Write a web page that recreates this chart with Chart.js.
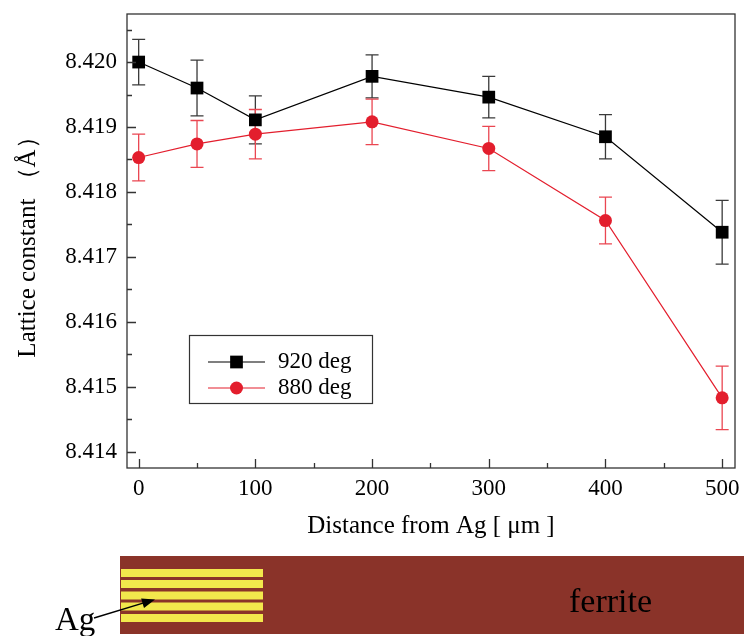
<!DOCTYPE html>
<html><head><meta charset="utf-8">
<script src="https://cdn.jsdelivr.net/npm/chart.js@4"></script>
<style>html,body{margin:0;padding:0;background:#fff}#wrap{width:744px;height:636px;position:relative}</style>
</head><body><div id="wrap"><canvas id="c" width="744" height="636"></canvas></div>
<script>
// ---- data ----
const distances = [0, 50, 100, 200, 300, 400, 500];
const lattice920 = [8.42000, 8.41960, 8.41911, 8.41978, 8.41946, 8.41885, 8.41738];
const err920 = [0.00035, 0.00043, 0.00037, 0.00033, 0.00032, 0.00034, 0.00049];
const lattice880 = [8.41853, 8.41874, 8.41889, 8.41908, 8.41867, 8.41756, 8.41483];
const err880 = [0.00036, 0.00036, 0.00038, 0.00035, 0.00034, 0.00036, 0.00049];
const seriesLabels = ['920 deg', '880 deg'];
const xMajorTicks = [0, 100, 200, 300, 400, 500];
const xMinorTicks = [50, 150, 250, 350, 450];
const yMajorTicks = [8.414, 8.415, 8.416, 8.417, 8.418, 8.419, 8.420];
const yMinorTicks = [8.4145, 8.4155, 8.4165, 8.4175, 8.4185, 8.4195, 8.4205];
const xTitle = 'Distance from Ag [ μm ]';
const yTitle = 'Lattice constant （Å）';
const schematicLabels = ['Ag', 'ferrite'];

const FONT = "'Liberation Serif', 'Times New Roman', serif";
const BLACK = '#000000';
const RED = '#E31E2D';
const errColors = ['#3a3a3a', '#EA4651'];
const errSets = [err920, err880];

const frameTicks = {
  id: 'frameTicks',
  afterDatasetsDraw(chart) {
    const {ctx, chartArea: a, scales: {x, y}} = chart;
    ctx.save();
    ctx.strokeStyle = '#333';
    ctx.lineWidth = 1.3;
    ctx.strokeRect(a.left, a.top, a.right - a.left, a.bottom - a.top);
    ctx.beginPath();
    xMajorTicks.forEach(v => { const p = Math.round(x.getPixelForValue(v)) + 0.5; ctx.moveTo(p, a.bottom); ctx.lineTo(p, a.bottom - 9); });
    xMinorTicks.forEach(v => { const p = Math.round(x.getPixelForValue(v)) + 0.5; ctx.moveTo(p, a.bottom); ctx.lineTo(p, a.bottom - 5); });
    yMajorTicks.forEach(v => { const p = Math.round(y.getPixelForValue(v)) + 0.5; ctx.moveTo(a.left, p); ctx.lineTo(a.left + 9, p); });
    yMinorTicks.forEach(v => { const p = Math.round(y.getPixelForValue(v)) + 0.5; ctx.moveTo(a.left, p); ctx.lineTo(a.left + 5, p); });
    ctx.stroke();
    ctx.restore();
  }
};

const errorBars = {
  id: 'errorBars',
  beforeDatasetsDraw(chart) {
    const {ctx, scales: {x, y}} = chart;
    ctx.save();
    chart.data.datasets.forEach((ds, i) => {
      ctx.strokeStyle = errColors[i];
      ctx.lineWidth = 1.3;
      ctx.beginPath();
      ds.data.forEach((pt, j) => {
        const e = errSets[i][j];
        const px = x.getPixelForValue(pt.x);
        const t = y.getPixelForValue(pt.y + e);
        const b = y.getPixelForValue(pt.y - e);
        ctx.moveTo(px, t); ctx.lineTo(px, b);
        ctx.moveTo(px - 6.5, t); ctx.lineTo(px + 6.5, t);
        ctx.moveTo(px - 6.5, b); ctx.lineTo(px + 6.5, b);
      });
      ctx.stroke();
    });
    ctx.restore();
  }
};

const customLegend = {
  id: 'customLegend',
  afterDraw(chart) {
    const {ctx} = chart;
    ctx.save();
    ctx.strokeStyle = '#333';
    ctx.lineWidth = 1.2;
    ctx.strokeRect(189.5, 335.5, 183, 68);
    const rows = [362, 388];
    chart.data.datasets.forEach((ds, i) => {
      const yy = rows[i];
      ctx.strokeStyle = ds.borderColor;
      ctx.lineWidth = 1.2;
      ctx.beginPath(); ctx.moveTo(208, yy); ctx.lineTo(265, yy); ctx.stroke();
      ctx.fillStyle = ds.pointBackgroundColor;
      ctx.beginPath();
      if (ds.pointStyle === 'rect') {
        const s = ds.pointRadius * Math.SQRT1_2;
        ctx.rect(236.5 - s, yy - s, 2 * s, 2 * s);
      } else {
        ctx.arc(236.5, yy, ds.pointRadius, 0, Math.PI * 2);
      }
      ctx.fill();
      ctx.fillStyle = '#000';
      ctx.font = '23px ' + FONT;
      ctx.textBaseline = 'middle';
      ctx.textAlign = 'left';
      ctx.fillText(ds.label, 278, yy);
    });
    ctx.restore();
  }
};

const schematic = {
  id: 'schematic',
  afterDraw(chart) {
    const {ctx} = chart;
    ctx.save();
    ctx.fillStyle = '#8A3329';
    ctx.fillRect(120, 556, 624, 78);
    ctx.fillStyle = '#F2E84C';
    [569, 580, 591.5, 602.5, 614].forEach(t => ctx.fillRect(121, t, 142, 8));
    // arrow
    ctx.strokeStyle = '#000'; ctx.fillStyle = '#000'; ctx.lineWidth = 1.5;
    const x0 = 94, y0 = 618, x1 = 155, y1 = 599.5;
    const ang = Math.atan2(y1 - y0, x1 - x0);
    ctx.beginPath(); ctx.moveTo(x0, y0); ctx.lineTo(x1 - 10 * Math.cos(ang), y1 - 10 * Math.sin(ang)); ctx.stroke();
    ctx.beginPath();
    ctx.moveTo(x1, y1);
    ctx.lineTo(x1 - 13 * Math.cos(ang) + 5 * Math.sin(ang), y1 - 13 * Math.sin(ang) - 5 * Math.cos(ang));
    ctx.lineTo(x1 - 13 * Math.cos(ang) - 5 * Math.sin(ang), y1 - 13 * Math.sin(ang) + 5 * Math.cos(ang));
    ctx.closePath(); ctx.fill();
    ctx.textBaseline = 'alphabetic';
    ctx.textAlign = 'left';
    ctx.font = '33px ' + FONT;
    ctx.fillText(schematicLabels[0], 55, 630);
    ctx.font = '34px ' + FONT;
    ctx.fillText(schematicLabels[1], 569, 612);
    ctx.restore();
  }
};

const toPts = arr => distances.map((d, i) => ({x: d, y: arr[i]}));

new Chart(document.getElementById('c'), {
  type: 'line',
  data: {
    datasets: [
      {label: seriesLabels[0], data: toPts(lattice920), borderColor: BLACK, backgroundColor: BLACK,
       pointBackgroundColor: BLACK, pointBorderColor: BLACK, pointStyle: 'rect', pointRadius: 9, pointBorderWidth: 0, borderWidth: 1.2, tension: 0},
      {label: seriesLabels[1], data: toPts(lattice880), borderColor: RED, backgroundColor: RED,
       pointBackgroundColor: RED, pointBorderColor: RED, pointStyle: 'circle', pointRadius: 6.5, pointBorderWidth: 0, borderWidth: 1.2, tension: 0}
    ]
  },
  options: {
    responsive: false,
    devicePixelRatio: 1,
    animation: false,
    layout: {padding: {top: 14, right: 6, left: 0, bottom: 0}},
    plugins: {legend: {display: false}, tooltip: {enabled: false}},
    scales: {
      x: {
        type: 'linear', min: -10, max: 511,
        grid: {display: false, drawTicks: false},
        border: {display: false},
        ticks: {font: {family: FONT, size: 23}, color: '#000', padding: 7, maxRotation: 0, autoSkip: false},
        afterBuildTicks: s => { s.ticks = xMajorTicks.map(v => ({value: v})); },
        afterFit: s => { s.height = 168; s.paddingLeft = 0; s.paddingRight = 0; },
        title: {display: true, text: xTitle, color: '#000', font: {family: FONT, size: 25}, padding: {top: 0, bottom: 95}}
      },
      y: {
        type: 'linear', min: 8.41375, max: 8.42074,
        grid: {display: false, drawTicks: false},
        border: {display: false},
        ticks: {font: {family: FONT, size: 23}, color: '#000', padding: 10, callback: v => Number(v).toFixed(3)},
        afterBuildTicks: s => { s.ticks = yMajorTicks.map(v => ({value: v})); },
        afterFit: s => { s.width = 127; s.paddingTop = 0; s.paddingBottom = 0; },
        title: {display: true, text: yTitle, color: '#000', font: {family: FONT, size: 25}, padding: {top: 13, bottom: 0}}
      }
    }
  },
  plugins: [errorBars, frameTicks, customLegend, schematic]
});
</script></body></html>
